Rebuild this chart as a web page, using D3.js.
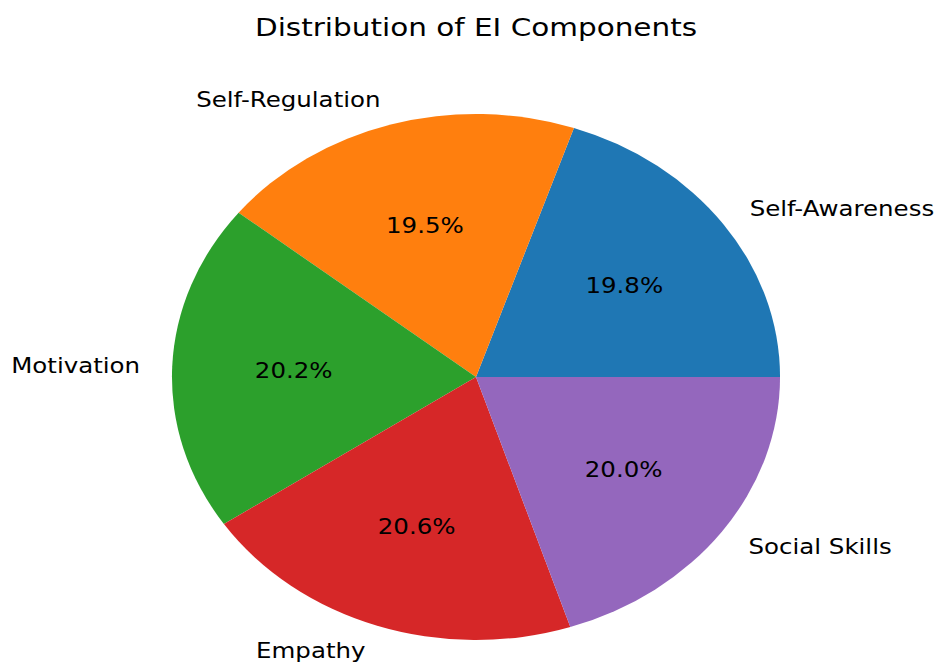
<!DOCTYPE html>
<html>
<head>
<meta charset="utf-8">
<script src="https://cdn.jsdelivr.net/npm/d3@7"></script>
<style>
  html, body { margin: 0; padding: 0; background: #fff; }
  svg { display: block; }
  text { font-family: "DejaVu Sans", sans-serif; fill: #000; }
</style>
</head>
<body>
<script>
const categories = ["Self-Awareness", "Self-Regulation", "Motivation", "Empathy", "Social Skills"];
const values = [19.8, 19.5, 20.2, 20.6, 20.0];
const colors = ["#1f77b4", "#ff7f0e", "#2ca02c", "#d62728", "#9467bd"];
const title = "Distribution of EI Components";

const W = 938, H = 664;
const cx = 476, cy = 377, R = 263, sx = 1.156;

const svg = d3.select("body").append("svg").attr("width", W).attr("height", H);

svg.append("text")
  .attr("transform", `translate(${cx},36) scale(${sx},1)`)
  .attr("text-anchor", "middle")
  .style("font-size", "25.5px")
  .text(title);

const g = svg.append("g").attr("transform", `translate(${cx},${cy}) scale(${sx},1)`);

const data = categories.map((c, i) => ({ name: c, value: values[i], color: colors[i] }));
const total = d3.sum(values);

const pie = d3.pie().value(d => d.value).sort(null)
  .startAngle(Math.PI / 2).endAngle(Math.PI / 2 - 2 * Math.PI);
const arcs = pie(data);
const arc = d3.arc().innerRadius(0).outerRadius(R);

g.selectAll("path.slice").data(arcs).enter().append("path")
  .attr("class", "slice")
  .attr("d", arc)
  .attr("fill", d => d.data.color);

arcs.forEach(d => {
  const mid = (d.startAngle + d.endAngle) / 2;
  const ux = Math.sin(mid), uy = -Math.cos(mid);
  g.append("text")
    .attr("x", 1.1 * R * ux + (ux > 0 ? 1.5 : -1.5))
    .attr("y", 1.1 * R * uy)
    .attr("text-anchor", ux > 0 ? "start" : "end")
    .attr("dominant-baseline", "central")
    .style("font-size", "21.2px")
    .text(d.data.name);
  g.append("text")
    .attr("x", 0.6 * R * ux)
    .attr("y", 0.6 * R * uy)
    .attr("text-anchor", "middle")
    .attr("dominant-baseline", "central")
    .style("font-size", "21.2px")
    .text((d.data.value / total * 100).toFixed(1) + "%");
});
</script>
</body>
</html>
